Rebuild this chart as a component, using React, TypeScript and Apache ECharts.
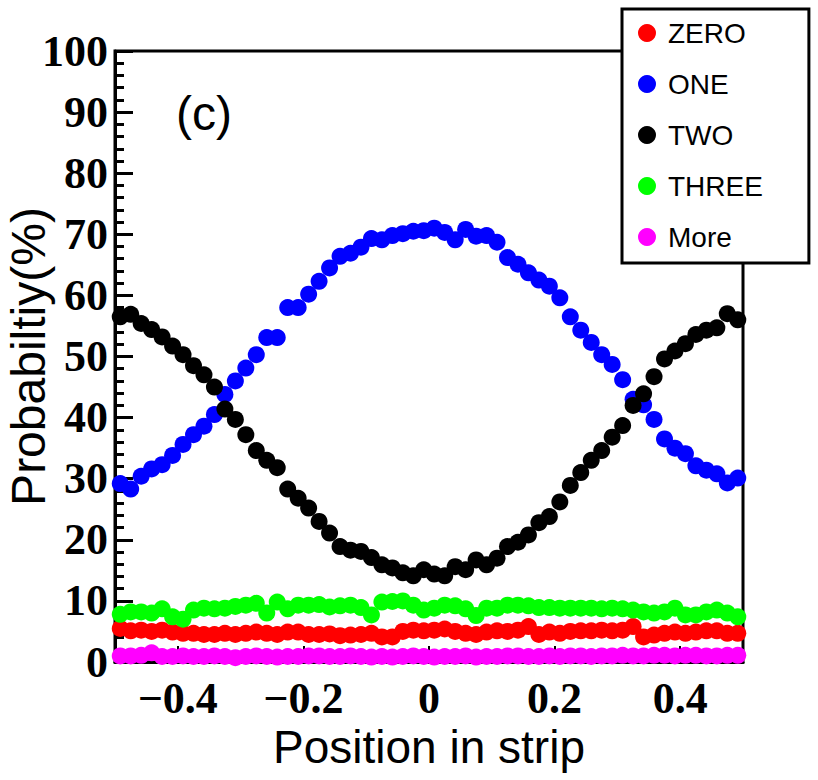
import React, { useEffect, useRef } from "react";
import * as echarts from "echarts";

// Bin centres of the position-in-strip histogram (60 bins over [-0.5, 0.5])
const N_BINS = 60;
const POSITIONS: number[] = Array.from({ length: N_BINS }, (_, i) => -0.5 + (i + 0.5) / N_BINS);

const X_TICKS = [-0.4, -0.2, 0, 0.2, 0.4];

const ZERO = [
  5.5, 5.1, 5.2, 5.0, 5.2, 4.9, 4.7, 4.7, 4.5, 4.5,
  4.7, 4.5, 4.7, 4.9, 4.7, 4.5, 4.9, 4.9, 4.5, 4.5,
  4.6, 4.3, 4.4, 4.5, 4.7, 4.1, 4.1, 5.0, 5.2, 5.1,
  5.2, 5.4, 5.0, 4.7, 4.5, 4.9, 5.1, 5.0, 5.2, 5.8,
  4.5, 4.9, 4.7, 5.0, 5.1, 5.1, 5.2, 5.1, 5.2, 5.8,
  4.1, 4.4, 4.7, 4.9, 4.7, 4.9, 5.1, 5.1, 4.7, 4.7,
];

const ONE = [
  29.2, 28.3, 30.4, 31.6, 32.3, 33.8, 35.6, 37.2, 38.6, 40.5,
  43.8, 46.0, 48.1, 50.3, 53.1, 53.1, 58.0, 58.0, 60.2, 62.3,
  64.5, 66.4, 66.9, 67.9, 69.3, 69.1, 69.8, 70.1, 70.5, 70.6,
  71.0, 70.3, 69.1, 70.8, 69.7, 69.8, 68.7, 66.2, 65.1, 63.7,
  62.5, 61.5, 59.6, 56.5, 54.3, 52.3, 50.3, 48.7, 46.2, 43.0,
  42.1, 39.7, 36.5, 35.0, 34.1, 32.1, 31.4, 30.8, 29.3, 30.1,
];

const TWO = [
  56.5, 56.9, 55.4, 54.4, 53.2, 51.7, 50.3, 48.5, 47.0, 45.0,
  41.4, 39.7, 37.2, 34.6, 33.0, 31.8, 28.3, 26.8, 25.2, 23.0,
  21.1, 18.9, 18.3, 18.1, 17.1, 15.9, 15.4, 14.6, 14.1, 15.1,
  14.4, 14.1, 15.6, 15.1, 16.7, 15.9, 17.0, 18.9, 19.6, 20.8,
  22.8, 23.8, 26.2, 28.9, 31.0, 33.0, 34.6, 36.8, 38.7, 42.0,
  43.9, 46.7, 49.6, 50.9, 52.1, 53.6, 54.3, 54.7, 57.0, 56.0,
];

const THREE = [
  7.8, 8.2, 8.2, 8.0, 8.7, 7.4, 7.0, 8.5, 8.8, 8.7,
  8.8, 9.1, 9.3, 9.6, 8.0, 9.8, 8.7, 9.3, 9.3, 9.4,
  9.0, 9.2, 9.3, 8.9, 7.7, 9.8, 9.9, 10.0, 9.3, 8.5,
  8.8, 9.3, 9.2, 8.7, 7.6, 8.8, 8.8, 9.3, 9.3, 9.2,
  8.9, 8.9, 8.8, 8.8, 8.8, 8.8, 8.7, 8.8, 8.7, 8.5,
  8.2, 8.0, 8.2, 8.8, 7.7, 7.7, 8.2, 8.5, 8.0, 7.4,
];

const MORE = [
  1.0, 1.0, 1.1, 1.5, 0.9, 0.9, 1.0, 0.9, 0.9, 1.0,
  0.9, 0.7, 0.9, 1.0, 0.9, 0.8, 0.9, 0.9, 1.0, 1.0,
  0.9, 0.9, 1.0, 0.9, 0.8, 0.9, 0.8, 0.9, 1.0, 0.9,
  0.8, 0.9, 0.9, 1.0, 0.8, 0.9, 0.9, 1.0, 1.0, 0.9,
  0.9, 1.0, 0.9, 1.0, 1.0, 0.9, 1.0, 1.0, 1.1, 1.0,
  1.0, 1.1, 1.1, 1.0, 1.1, 1.1, 1.0, 1.0, 1.1, 1.1,
];

const SERIES_DEFS = [
  { name: "ZERO", values: ZERO, color: "#ff0000" },
  { name: "ONE", values: ONE, color: "#0000ff" },
  { name: "TWO", values: TWO, color: "#000000" },
  { name: "THREE", values: THREE, color: "#00ff00" },
  { name: "More", values: MORE, color: "#ff00ff" },
];

const SERIF = "Liberation Serif";
const SANS = "Liberation Sans";

function fmtX(v: number): string {
  const r = Math.round(v * 10) / 10;
  if (r === 0) return "0";
  return r < 0 ? "\u2212" + Math.abs(r).toString() : r.toString();
}

export default function App() {
  const ref = useRef<HTMLDivElement>(null);

  useEffect(() => {
    if (!ref.current) return;
    const chart = echarts.init(ref.current, undefined, { renderer: "svg" });
    const option: any = {
      animation: false,
      backgroundColor: "#ffffff",
      grid: {
        left: 115,
        right: 75,
        top: 51,
        bottom: 118,
        containLabel: false,
        outerBoundsMode: "none",
        show: true,
        borderColor: "#000",
        borderWidth: 3,
        backgroundColor: "transparent",
      },
      xAxis: {
        type: "value",
        min: -0.5,
        max: 0.5,
        name: "Position in strip",
        nameLocation: "middle",
        nameGap: 62,
        nameMoveOverlap: false,
        nameTextStyle: { fontFamily: SANS, fontSize: 46, color: "#000" },
        axisLine: { show: true, onZero: false, lineStyle: { color: "#000", width: 3 } },
        axisTick: {
          show: true,
          inside: true,
          length: 16,
          lineStyle: { color: "#000", width: 2 },
          customValues: X_TICKS,
        },
        axisLabel: {
          show: true,
          customValues: X_TICKS,
          margin: 14,
          fontFamily: SERIF,
          fontWeight: "bold",
          fontSize: 44,
          color: "#000",
          formatter: (v: number) => fmtX(v),
        },
        splitLine: { show: false },
      },
      yAxis: {
        type: "value",
        min: 0,
        max: 100,
        interval: 10,
        name: "Probabiltiy(%)",
        nameLocation: "middle",
        nameGap: 63,
        nameMoveOverlap: false,
        nameTextStyle: { fontFamily: SANS, fontSize: 48, color: "#000" },
        axisLine: { show: true, onZero: false, lineStyle: { color: "#000", width: 3 } },
        axisTick: { show: true, inside: true, length: 18, lineStyle: { color: "#000", width: 3 } },
        minorTick: { show: true, splitNumber: 5, length: 9, lineStyle: { color: "#000", width: 3 } },
        axisLabel: {
          margin: 7,
          fontFamily: SERIF,
          fontWeight: "bold",
          fontSize: 44,
          color: "#000",
        },
        splitLine: { show: false },
      },
      legend: {
        orient: "vertical",
        left: 622,
        top: 9,
        padding: [10, 46, 12, 16],
        itemGap: 23,
        itemWidth: 18,
        itemHeight: 18,
        icon: "circle",
        backgroundColor: "#ffffff",
        borderColor: "#000",
        borderWidth: 3,
        borderRadius: 0,
        textStyle: {
          fontFamily: SANS,
          fontSize: 28,
          lineHeight: 28,
          color: "#000",
          padding: [0, 0, 0, 7],
        },
        data: SERIES_DEFS.map((s) => s.name),
      },
      graphic: [
        {
          type: "text",
          x: 204,
          y: 113,
          style: {
            text: "(c)",
            font: `48px "${SANS}"`,
            fill: "#000",
            align: "center",
            verticalAlign: "middle",
          },
        },
      ],
      series: SERIES_DEFS.map((s) => ({
        name: s.name,
        type: "scatter",
        symbol: "circle",
        symbolSize: 17,
        itemStyle: { color: s.color, opacity: 1 },
        data: POSITIONS.map((x, i) => [x, s.values[i]]),
        clip: false,
      })),
    };
    chart.setOption(option);
    return () => {
      chart.dispose();
    };
  }, []);

  return (
    <div
      ref={ref}
      style={{ position: "fixed", left: 0, top: 0, width: 818, height: 780, background: "#fff" }}
    />
  );
}
